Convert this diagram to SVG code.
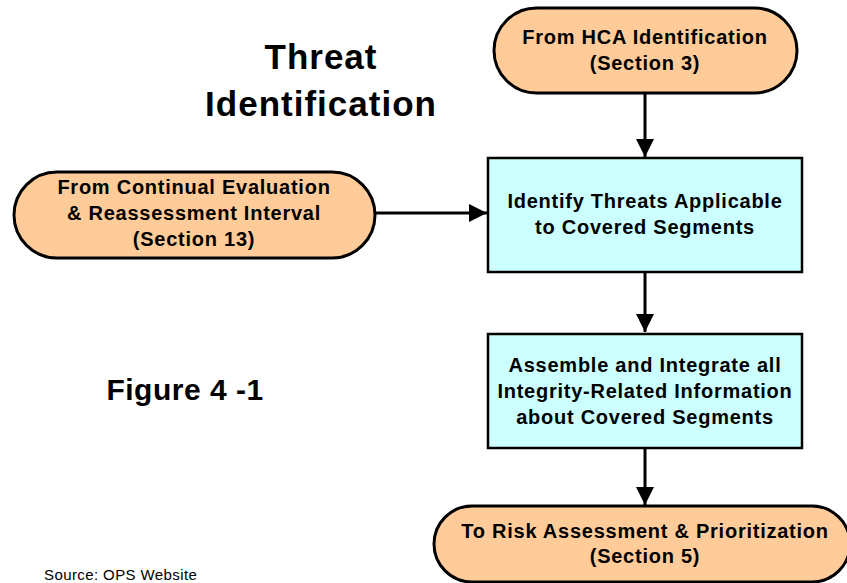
<svg xmlns="http://www.w3.org/2000/svg" width="847" height="583" viewBox="0 0 847 583">
<defs>
<style>
.pill{fill:#FFCC99;stroke:#000;stroke-width:3}
.box{fill:#CCFFFF;stroke:#000;stroke-width:2.5}
.t{font-family:"Liberation Sans",Arial,sans-serif;font-weight:bold;font-size:20px;letter-spacing:0.75px;text-anchor:middle;fill:#000}
.title{font-family:"Liberation Sans",Arial,sans-serif;font-weight:bold;font-size:35px;letter-spacing:1px;text-anchor:middle;fill:#000}
.conn{stroke:#000;stroke-width:3;fill:none}
</style>
<marker id="ah" markerWidth="6" markerHeight="6" refX="6" refY="3" orient="auto" markerUnits="strokeWidth">
<path d="M0,0 L6,3 L0,6 Z" fill="#000"/>
</marker>
</defs>
<rect width="847" height="583" fill="#fff"/>
<g id="title">
<text class="title" x="321" y="69">Threat</text>
<text class="title" x="321" y="116">Identification</text>
</g>
<g id="figure">
<text class="title" x="185" y="400" style="font-size:30px;letter-spacing:0.5px">Figure 4 -1</text>
</g>
<g id="source">
<text x="44" y="580" style="font-family:'Liberation Sans',Arial,sans-serif;font-size:15px;letter-spacing:0.4px;fill:#000">Source: OPS Website</text>
</g>
<g id="connectors">
<line class="conn" x1="645" y1="94" x2="645" y2="157" marker-end="url(#ah)"/>
<line class="conn" x1="376" y1="213" x2="487" y2="213" marker-end="url(#ah)"/>
<line class="conn" x1="645" y1="273" x2="645" y2="332" marker-end="url(#ah)"/>
<line class="conn" x1="645" y1="449" x2="645" y2="505" marker-end="url(#ah)"/>
</g>
<g id="hca">
<rect class="pill" x="494" y="8" width="303" height="85" rx="42.5"/>
<text class="t" x="645" y="44">From HCA Identification</text>
<text class="t" x="645" y="70">(Section 3)</text>
</g>
<g id="continual">
<rect class="pill" x="14" y="172" width="361" height="86" rx="43"/>
<text class="t" x="194" y="194">From Continual Evaluation</text>
<text class="t" x="194" y="220">&amp; Reassessment Interval</text>
<text class="t" x="194" y="246">(Section 13)</text>
</g>
<g id="identify">
<rect class="box" x="488" y="158" width="314" height="114"/>
<text class="t" x="645" y="208">Identify Threats Applicable</text>
<text class="t" x="645" y="234">to Covered Segments</text>
</g>
<g id="assemble">
<rect class="box" x="488" y="334" width="314" height="114"/>
<text class="t" x="645" y="372">Assemble and Integrate all</text>
<text class="t" x="645" y="398">Integrity-Related Information</text>
<text class="t" x="645" y="424">about Covered Segments</text>
</g>
<g id="risk">
<rect class="pill" x="434" y="506" width="416" height="76" rx="38"/>
<text class="t" x="645" y="538">To Risk Assessment &amp; Prioritization</text>
<text class="t" x="645" y="563">(Section 5)</text>
</g>
</svg>
